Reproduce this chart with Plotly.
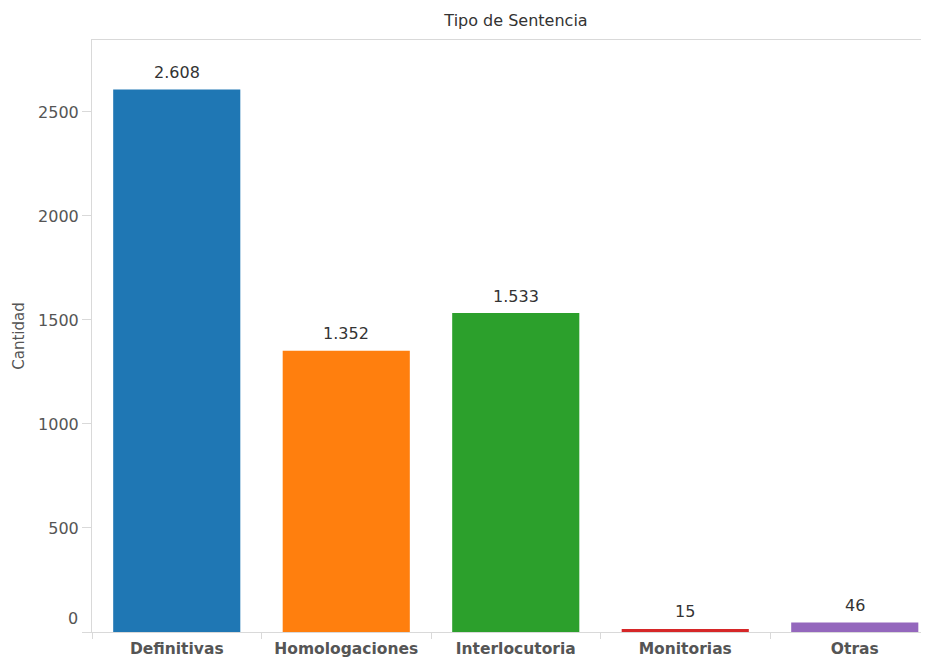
import plotly.graph_objects as go

categories = ["Definitivas", "Homologaciones", "Interlocutoria", "Monitorias", "Otras"]
values = [2608, 1352, 1533, 15, 46]
colors = ["#1f77b4", "#ff7f0e", "#2ca02c", "#d62728", "#9467bd"]
y_ticks = [0, 500, 1000, 1500, 2000, 2500]
y_ticktext = ["", "500", "1000", "1500", "2000", "2500"]

FONT = "DejaVu Sans"
W, H = 921, 649  # page body has an 8px margin inside the 929x657 window

fig = go.Figure(go.Bar(
    x=categories, y=values, marker_color=colors, width=0.75,
    marker_line_width=0, hoverinfo="x+y",
))

annotations = []
for c, v in zip(categories, values):
    annotations.append(dict(
        x=c, y=v, xref="x", yref="y", text=f"{v:,}".replace(",", "."),
        showarrow=False, yanchor="middle", yshift=17,
        font=dict(family=FONT, size=16, color="#333333"),
    ))
# zero tick label sits slightly above the axis, as in the reference
annotations.append(dict(
    x=0, xref="paper", y=0, yref="y", text="0", showarrow=False,
    xanchor="right", xshift=-12, yanchor="middle", yshift=14,
    font=dict(family=FONT, size=16, color="#555555"),
))

fig.update_layout(
    width=W, height=H,
    margin=dict(l=84, r=0, t=32, b=25),
    paper_bgcolor="white", plot_bgcolor="white",
    font=dict(family=FONT, color="#555555"),
    title=dict(text="Tipo de Sentencia", xref="container", x=508 / W, xanchor="center",
               yref="container", y=1 - 12 / H, yanchor="middle",
               font=dict(family=FONT, size=16, color="#333333")),
    showlegend=False,
    annotations=annotations,
)
fig.update_xaxes(
    range=[-0.5, 4.438], type="category", tickson="boundaries",
    ticks="outside", ticklen=6, tickcolor="#d9d9d9",
    showline=True, linecolor="#d9d9d9", linewidth=1, mirror=True,
    showgrid=False, zeroline=False, ticklabelstandoff=2,
    tickfont=dict(family=FONT, size=15.5, color="#555555", weight="bold"),
)
fig.update_yaxes(
    range=[0, 2846], tickvals=y_ticks, ticktext=y_ticktext,
    ticks="outside", ticklen=9, tickcolor="#d9d9d9",
    showline=True, linecolor="#d9d9d9", linewidth=1,
    showgrid=False, zeroline=False,
    tickfont=dict(family=FONT, size=16, color="#555555"),
    title=dict(text="Cantidad", font=dict(family=FONT, size=15, color="#555555"), standoff=9),
)

fig.write_html("out.html")
